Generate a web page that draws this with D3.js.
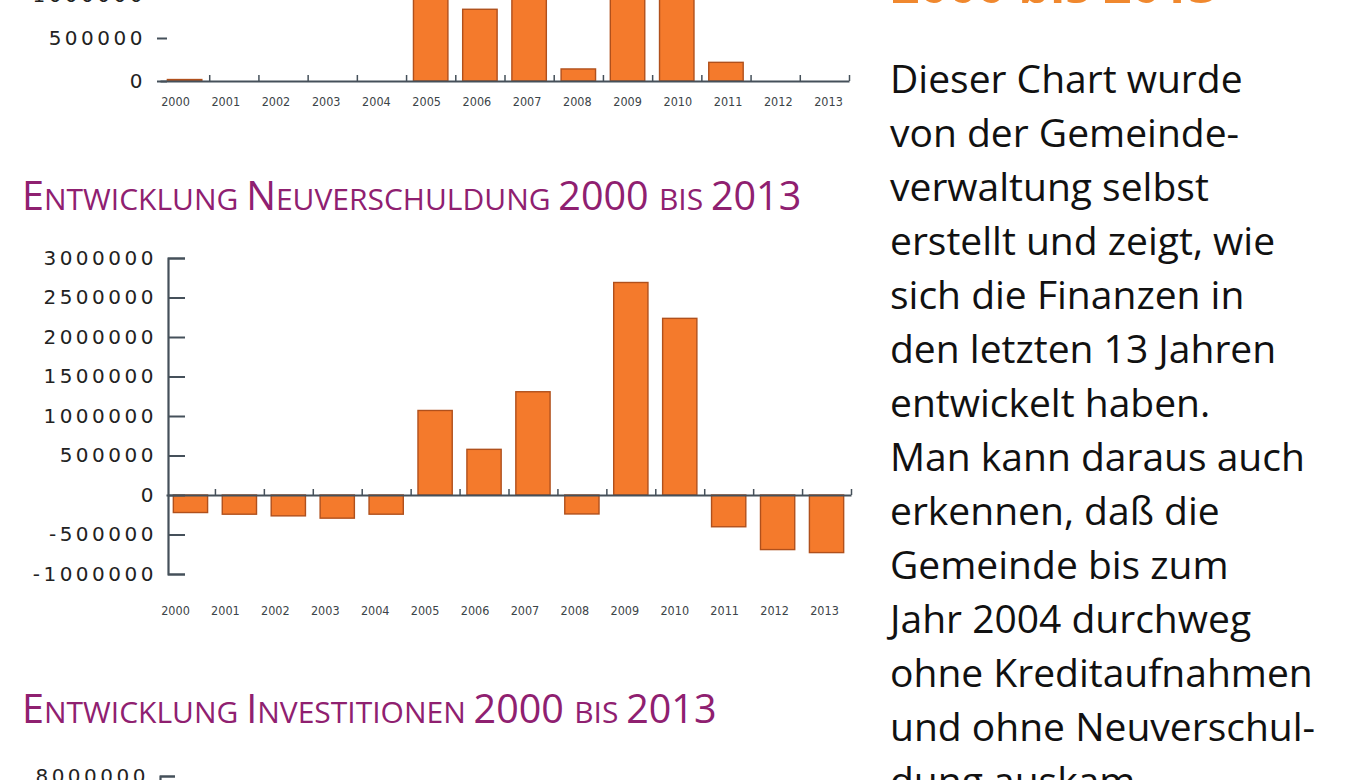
<!DOCTYPE html>
<html>
<head>
<meta charset="utf-8">
<script src="https://cdn.jsdelivr.net/npm/d3@7/dist/d3.min.js"></script>
<style>
body { margin: 0; background: #fff; overflow: hidden; }
</style>
</head>
<body>
<div id="page"></div>
<script>
const WIDTH = 1364, HEIGHT = 780;

// data
const YEARS = ["2000", "2001", "2002", "2003", "2004", "2005", "2006", "2007", "2008", "2009", "2010", "2011", "2012", "2013"];
const KREDITAUFNAHMEN = [17000, 0, 0, 0, 0, 1330000, 834000, 1580000, 140000, 3050000, 2600000, 217000, 0, 0];
const NEUVERSCHULDUNG = [-222000, -243000, -264000, -293000, -243000, 1070000, 578000, 1307000, -240000, 2690000, 2236000, -402000, -691000, -729000];
const KREDIT_TICKS = [0, 500000, 1000000, 1500000, 2000000, 2500000, 3000000, 3500000];
const NEU_TICKS = [-1000000, -500000, 0, 500000, 1000000, 1500000, 2000000, 2500000, 3000000];
const INVEST_TICKS = [0, 2000000, 4000000, 6000000, 8000000];
const TITLE_NEU = [["E", 1], ["NTWICKLUNG ", 0], ["N", 1], ["EUVERSCHULDUNG ", 0], ["2000 ", 1], ["BIS ", 0], ["2013", 1]];
const TITLE_INV = [["E", 1], ["NTWICKLUNG ", 0], ["I", 1], ["NVESTITIONEN ", 0], ["2000 ", 1], ["BIS ", 0], ["2013", 1]];
const HEADING = "2000 bis 2013";
const TEXT_LINES = [
    "Dieser Chart wurde",
    "von der Gemeinde-",
    "verwaltung selbst",
    "erstellt und zeigt, wie",
    "sich die Finanzen in",
    "den letzten 13 Jahren",
    "entwickelt haben.",
    "Man kann daraus auch",
    "erkennen, daß die",
    "Gemeinde bis zum",
    "Jahr 2004 durchweg",
    "ohne Kreditaufnahmen",
    "und ohne Neuverschul-",
    "dung auskam."
];

const BAR_FILL = "#f47a2c", BAR_STROKE = "#b0501c";
const AXIS_COLOR = "#45505a", TITLE_COLOR = "#8f2070";

const svg = d3.select("#page")
    .append("svg")
    .attr("width", WIDTH)
    .attr("height", HEIGHT)
    .style("font-family", "'Open Sans', 'Noto Sans', sans-serif");

function DrawBarChart(cfg) {
    const g = svg.append("g");
    const y = d3.scaleLinear().domain(cfg.yDomain).range(cfg.yRange);

    // y axis: labels on the left, ticks pointing into the plot
    const yAxis = g.append("g")
        .attr("transform", `translate(${cfg.yAxisX},0)`)
        .call(d3.axisLeft(y).tickValues(cfg.ticks).tickSizeInner(-cfg.tickLen).tickSizeOuter(-cfg.tickLen).tickPadding(11).tickFormat(d3.format("d")));
    yAxis.select(".domain").attr("stroke", AXIS_COLOR).attr("stroke-width", 2.2).attr("fill", "none")
        .style("display", cfg.hideDomain ? "none" : null);
    yAxis.selectAll(".tick line").attr("stroke", AXIS_COLOR).attr("stroke-width", 2);
    yAxis.selectAll(".tick text")
        .attr("fill", "#222")
        .style("font-family", "'DejaVu Sans', sans-serif")
        .style("font-size", "20px")
        .style("letter-spacing", "3.5px")
        .text(d => d < 0 ? "-" + Math.abs(d) : d);

    if (!cfg.values) return;

    const x = d3.scaleBand().domain(YEARS).range(cfg.xRange).paddingInner(0.3).paddingOuter(0.15);
    const labelX = d3.scalePoint().domain(YEARS).range(cfg.labelRange);
    const bounds = d3.scaleLinear().domain([0, YEARS.length]).range(cfg.xRange);

    g.insert("g", ":first-child")
        .selectAll("rect")
        .data(cfg.values)
        .join("rect")
        .attr("x", (d, i) => x(YEARS[i]))
        .attr("width", x.bandwidth())
        .attr("y", d => y(Math.max(0, d)))
        .attr("height", d => Math.abs(y(d) - y(0)))
        .attr("fill", BAR_FILL)
        .attr("stroke", BAR_STROKE)
        .attr("stroke-width", 1.4);

    // x axis line with small marks at band boundaries
    const xAxis = g.append("g")
        .attr("transform", `translate(0,${y(0)})`)
        .call(d3.axisBottom(bounds).tickValues(d3.range(1, YEARS.length + 1)).tickSize(-6).tickSizeOuter(0).tickFormat(""));
    xAxis.select(".domain").attr("stroke", AXIS_COLOR).attr("stroke-width", 2.2);
    xAxis.selectAll(".tick line").attr("stroke", AXIS_COLOR).attr("stroke-width", 1.5);

    // year labels
    const labels = g.append("g")
        .attr("transform", `translate(0,${cfg.labelY})`)
        .call(d3.axisBottom(labelX).tickSize(0).tickPadding(0));
    labels.select(".domain").remove();
    labels.selectAll(".tick text")
        .attr("fill", "#3c4448")
        .style("font-family", "'DejaVu Sans Condensed', 'DejaVu Sans', sans-serif")
        .style("font-stretch", "condensed")
        .style("font-size", "12.5px");
}

function DrawTitle(parts, xPos, yPos) {
    const t = svg.append("text")
        .attr("x", xPos)
        .attr("y", yPos)
        .attr("fill", TITLE_COLOR)
        .attr("xml:space", "preserve")
        .style("font-family", "'Open Sans', sans-serif")
        .style("font-weight", 500);
    t.selectAll("tspan")
        .data(parts)
        .join("tspan")
        .style("font-size", d => d[1] ? "39.5px" : "30px")
        .text(d => d[0]);
}

// top chart: only the lower part is inside the crop
DrawBarChart({
    values: KREDITAUFNAHMEN,
    xRange: [160, 849],
    labelRange: [175, 828],
    labelY: 97,
    yDomain: [0, 500000],
    yRange: [81, 38],
    ticks: KREDIT_TICKS,
    yAxisX: 157,
    tickLen: 10,
    hideDomain: true
});

DrawTitle(TITLE_NEU, 22, 210);

DrawBarChart({
    values: NEUVERSCHULDUNG,
    xRange: [166, 851],
    labelRange: [175, 824],
    labelY: 606,
    yDomain: [-1000000, 3000000],
    yRange: [574, 258],
    ticks: NEU_TICKS,
    yAxisX: 168,
    tickLen: 17
});

DrawTitle(TITLE_INV, 22, 723);

// bottom chart: only its top tick is inside the crop
DrawBarChart({
    yDomain: [0, 8000000],
    yRange: [1090, 776],
    ticks: INVEST_TICKS,
    yAxisX: 160,
    tickLen: 15
});

// right column: orange heading (cut off) and body text
svg.append("text")
    .attr("x", 891)
    .attr("y", 3)
    .attr("fill", "#f0882e")
    .style("font-family", "'Open Sans', sans-serif")
    .style("font-weight", 700)
    .style("font-size", "50px")
    .text(HEADING);

svg.append("g")
    .selectAll("text")
    .data(TEXT_LINES)
    .join("text")
    .attr("x", 890)
    .attr("y", (d, i) => 93 + i * 54)
    .attr("fill", "#111")
    .style("font-family", "'Open Sans', sans-serif")
    .style("font-size", "39px")
    .style("font-weight", 500)
    .text(d => d);
</script>
</body>
</html>
